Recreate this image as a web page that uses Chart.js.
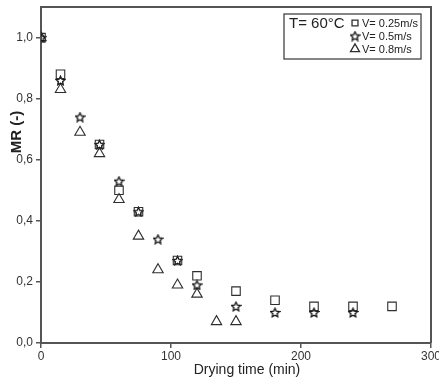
<!DOCTYPE html>
<html>
<head>
<meta charset="utf-8">
<script src="https://cdn.jsdelivr.net/npm/chart.js@4.4.1/dist/chart.umd.min.js"></script>
<style>
  html, body { margin: 0; padding: 0; background: #fff; }
  #wrap { width: 439px; height: 382px; }
</style>
</head>
<body>
<div id="wrap"><canvas id="mr_chart" width="439" height="382"></canvas></div>
<script>
// values
const time25 = [0, 15, 45, 60, 75, 105, 120, 150, 180, 210, 240, 270];
const mr25 = [1.0, 0.88, 0.65, 0.50, 0.43, 0.27, 0.22, 0.17, 0.14, 0.12, 0.12, 0.12];

const time05 = [0, 15, 30, 45, 60, 75, 90, 105, 120, 150, 180, 210, 240];
const mr05 = [1.0, 0.86, 0.74, 0.65, 0.53, 0.43, 0.34, 0.27, 0.19, 0.12, 0.10, 0.10, 0.10];

const time08 = [0, 15, 30, 45, 60, 75, 90, 105, 120, 135, 150];
const mr08 = [1.0, 0.83, 0.69, 0.62, 0.47, 0.35, 0.24, 0.19, 0.16, 0.07, 0.07];

const seriesNames = ["V= 0.25m/s", "V= 0.5m/s", "V= 0.8m/s"];
const legendTitle = "T= 60°C";
const xTitle = "Drying time (min)";
const yTitle = "MR (-)";
const xTicks = [0, 100, 200, 300];
const yTicks = [0, 0.2, 0.4, 0.6, 0.8, 1.0];

const ink = "#2e2e2e";
const fontName = "'Liberation Sans', Arial, sans-serif";

// hollow 5-point star marker
makeStar = (size) => {
    const c = document.createElement("canvas");
    c.width = size; c.height = size;
    const g = c.getContext("2d");
    const cx = size / 2, cy = size / 2 + 0.5;
    const R = size / 2 - 0.8, r = R * 0.48;
    g.beginPath();
    for (let i = 0; i < 10; i++) {
        const rad = (i % 2 === 0 ? R : r);
        const a = -Math.PI / 2 + i * Math.PI / 5;
        const px = cx + rad * Math.cos(a), py = cy + rad * Math.sin(a);
        if (i === 0) g.moveTo(px, py); else g.lineTo(px, py);
    }
    g.closePath();
    g.strokeStyle = "#111";
    g.lineWidth = 1.3;
    g.stroke();
    return c;
};
const starImg = makeStar(11);

toPoints = (xs, ys) => xs.map((x, i) => ({ x: x, y: ys[i] }));

// frame on top/right, axis titles and the legend box
const framePlugin = {
    id: "frame",
    afterDraw(chart) {
        const { ctx, chartArea: a } = chart;
        ctx.save();
        ctx.strokeStyle = "#555";
        ctx.lineWidth = 2;
        ctx.beginPath();
        ctx.moveTo(a.left, a.top);
        ctx.lineTo(a.right, a.top);
        ctx.lineTo(a.right, a.bottom);
        ctx.stroke();

        // axis titles
        ctx.fillStyle = "#222";
        ctx.textAlign = "center";
        ctx.textBaseline = "alphabetic";
        ctx.font = "14px " + fontName;
        ctx.fillText(xTitle, 247, 374);
        ctx.save();
        ctx.translate(21, 132);
        ctx.rotate(-Math.PI / 2);
        ctx.font = "bold 15px " + fontName;
        ctx.fillText(yTitle, 0, 0);
        ctx.restore();

        // legend
        const bx = 284, by = 14, bw = 137, bh = 45;
        ctx.textAlign = "left";
        ctx.lineWidth = 1.3;
        ctx.strokeStyle = "#444";
        ctx.strokeRect(bx, by, bw, bh);
        ctx.fillStyle = "#222";
        ctx.font = "15px " + fontName;
        ctx.textBaseline = "middle";
        ctx.fillText(legendTitle, bx + 5, by + 10);
        ctx.font = "11px " + fontName;
        const styles = ["rect", starImg, "triangle"];
        const radii = [4.2, 5, 5.2];
        for (let i = 0; i < 3; i++) {
            const yy = by + 9 + i * 13;
            ctx.fillStyle = "rgba(0,0,0,0)";
            ctx.strokeStyle = ink;
            Chart.helpers.drawPoint(ctx, {
                pointStyle: styles[i], radius: radii[i], borderWidth: 1.1, rotation: 0
            }, bx + 71, yy);
            ctx.fillStyle = "#222";
            ctx.fillText(seriesNames[i], bx + 78, yy + 1);
        }
        ctx.restore();
    }
};

const common = {
    showLine: false,
    backgroundColor: "rgba(0,0,0,0)",
    borderColor: ink,
    borderWidth: 1.1,
    clip: { left: 0, top: false, right: false, bottom: false }
};

new Chart("mr_chart", {
    type: "scatter",
    data: {
        datasets: [
            Object.assign({ label: seriesNames[0], data: toPoints(time25, mr25), pointStyle: "rect", pointRadius: 6 }, common),
            Object.assign({ label: seriesNames[1], data: toPoints(time05, mr05), pointStyle: starImg, pointRadius: 5 }, common),
            Object.assign({ label: seriesNames[2], data: toPoints(time08, mr08), pointStyle: "triangle", pointRadius: 6 }, common)
        ]
    },
    options: {
        responsive: false,
        animation: false,
        events: [],
        layout: { padding: { top: 7, right: 8, left: 0, bottom: 0 } },
        plugins: { legend: { display: false }, tooltip: { enabled: false } },
        scales: {
            x: {
                type: "linear",
                min: 0, max: 300,
                afterBuildTicks: (s) => { s.ticks = xTicks.map(v => ({ value: v })); },
                afterFit: (s) => { s.height = 39; s.paddingRight = 0; s.paddingLeft = 0; },
                border: { color: "#555", width: 2 },
                grid: { drawOnChartArea: false, tickLength: 5, color: "#555", lineWidth: 1.5 },
                ticks: { color: "#333", font: { family: fontName, size: 12 }, padding: 1, maxRotation: 0 }
            },
            y: {
                type: "linear",
                min: 0, max: 1.1,
                afterBuildTicks: (s) => { s.ticks = yTicks.map(v => ({ value: v })); },
                afterFit: (s) => { s.width = 41; s.paddingTop = 0; s.paddingBottom = 0; },
                border: { color: "#555", width: 2 },
                grid: { drawOnChartArea: false, tickLength: 5, color: "#555", lineWidth: 1.5 },
                ticks: {
                    color: "#333", font: { family: fontName, size: 12 }, padding: 3,
                    callback: (v) => v.toFixed(1).replace(".", ",")
                }
            }
        }
    },
    plugins: [framePlugin]
});
</script>
</body>
</html>
